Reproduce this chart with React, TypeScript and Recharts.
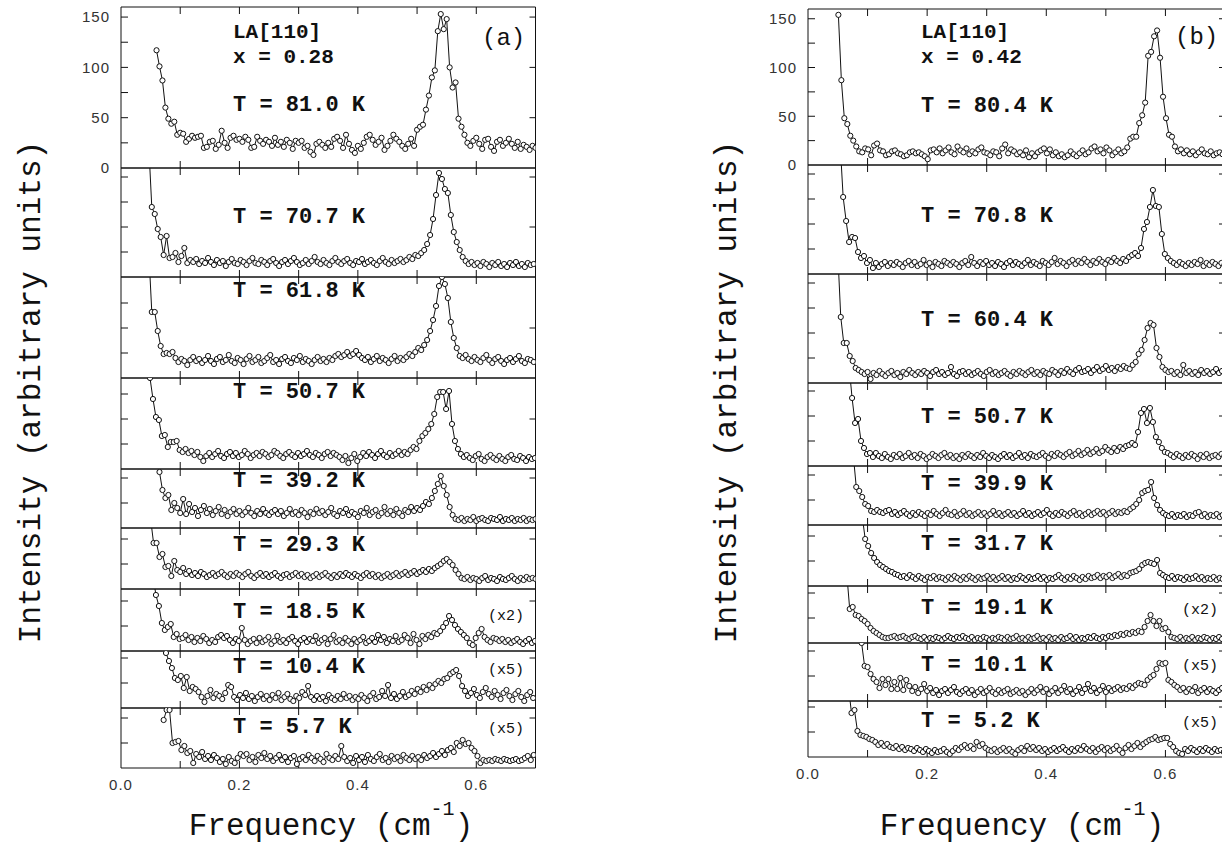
import React from 'react';
import { LineChart, Line, XAxis, YAxis } from 'recharts';

// ---------------- DATA ----------------
const STEP = 0.005; // frequency step of the scans (cm^-1)

// Panel (a): LA[110], x = 0.28
const a1Start = 0.06;
const a1 = [117,101,87,60,49,44,46,33,35,34,26,29,32,30,31,32,20,21,26,27,19,23,37,25,20,30,32,28,29,26,31,28,20,21,31,27,24,28,26,22,30,23,26,21,28,25,19,27,25,27,20,22,16,13,24,26,23,20,25,21,29,31,27,20,33,24,18,15,22,19,25,31,33,28,23,26,30,18,22,27,33,29,26,22,19,24,29,22,38,41,43,58,72,90,97,136,153,138,148,100,80,85,49,41,33,25,22,27,30,24,19,28,29,21,17,26,28,22,25,29,24,20,26,19,23,21,18,22,20];
const a2Start = 0.047;
const a2 = [130,70,63,48,40,22,41,19,20,24,15,21,29,14,17,15,18,13,16,14,19,15,12,17,14,16,11,15,18,14,13,17,15,12,16,19,14,13,17,15,12,16,18,14,11,15,17,13,16,19,15,12,14,17,13,16,20,15,13,17,14,12,16,19,15,13,16,18,14,12,16,15,18,13,15,17,14,12,16,19,15,13,17,14,16,18,15,17,20,18,22,21,24,27,33,42,58,82,104,98,88,84,62,45,35,27,20,16,13,15,12,14,11,15,13,10,14,12,15,11,13,10,14,12,15,11,13,10,14,12,13];
const a3Start = 0.047;
const a3 = [125,66,66,47,32,24,25,24,26,20,16,19,17,13,18,21,17,19,15,18,22,17,14,19,21,16,18,23,17,15,20,18,14,19,22,16,18,21,15,17,20,23,16,18,14,19,21,17,15,20,18,22,16,19,17,14,18,21,17,19,16,20,18,22,24,21,23,26,22,24,27,23,20,18,21,16,19,22,17,20,18,15,19,22,17,20,18,21,24,22,26,30,28,33,38,47,58,72,92,101,94,80,56,40,30,22,20,23,19,17,21,18,16,20,23,18,15,19,21,17,14,18,20,16,19,22,17,15,19,18,16];
const a4Start = 0.049;
const a4 = [91,70,52,49,33,34,22,27,27,28,19,17,20,16,18,14,17,12,8,13,16,12,15,18,13,11,15,17,13,16,12,14,18,15,11,14,16,13,17,15,12,14,18,16,13,11,15,17,14,12,16,13,15,18,14,12,16,14,11,15,17,13,16,14,12,9,13,6,11,15,8,12,16,13,17,14,11,15,18,14,12,16,13,15,18,14,17,15,19,22,20,28,33,36,40,45,55,72,77,77,60,78,45,28,20,15,12,14,11,9,13,15,10,8,12,14,11,9,13,10,8,12,14,10,9,13,11,8,12,10,11];
const a5Start = 0.065;
const a5 = [56,38,30,33,18,25,20,15,29,14,24,16,20,12,18,22,15,19,13,17,21,14,18,12,16,19,14,17,13,16,20,15,12,17,14,19,15,13,16,18,14,17,12,15,19,14,16,13,18,15,11,16,14,19,15,17,13,16,20,14,12,17,15,19,13,16,14,11,17,15,20,13,16,18,12,15,21,14,17,13,19,15,12,18,16,21,17,20,18,22,26,24,30,37,44,52,42,33,21,13,9,8,10,7,9,8,11,7,9,10,8,7,10,9,8,11,7,9,8,10,7,9,8,10,7,9,8,9];
const a6Start = 0.05;
const a6 = [70,46,46,32,35,22,23,13,28,19,17,21,15,18,14,16,13,17,15,12,14,16,13,15,17,14,12,15,13,16,14,12,15,17,13,11,14,16,13,15,12,14,16,13,11,14,15,12,14,16,13,15,12,14,11,13,15,12,14,16,13,11,14,12,15,13,16,14,12,15,13,11,14,16,13,15,12,14,11,13,15,12,14,16,13,15,17,14,16,18,15,17,19,17,20,18,21,23,25,28,30,27,24,19,15,11,10,12,9,11,10,8,11,13,9,11,10,8,12,10,9,11,13,10,8,11,9,12,10,11,10];
const a7Start = 0.054;
const a7 = [75,56,45,28,21,24,27,14,17,12,13,16,11,14,9,13,10,15,12,8,11,9,14,16,13,15,11,8,12,10,23,11,7,10,12,8,13,9,11,14,7,10,15,9,11,8,12,14,10,7,11,13,9,12,10,15,8,11,13,7,12,16,9,11,8,13,10,7,12,9,11,14,8,10,13,9,16,11,14,8,12,10,15,9,11,16,13,8,17,11,7,15,12,16,14,18,17,20,24,28,35,31,26,22,19,16,13,8,6,13,18,22,14,11,9,13,12,10,12,9,11,8,10,12,9,7,10,12,8,10];
const a8Start = 0.076;
const a8 = [55,47,40,30,28,32,20,31,17,21,19,16,11,6,12,18,10,14,12,9,15,23,21,11,8,13,10,15,9,12,7,11,14,9,12,8,13,10,15,8,11,14,9,7,12,10,16,13,22,11,8,12,9,11,7,13,10,8,12,9,14,10,12,8,11,9,13,10,7,12,15,9,11,17,12,23,10,14,9,12,16,11,13,17,14,19,16,21,18,23,20,24,27,25,29,30,34,36,38,32,22,17,12,15,19,13,10,16,20,14,11,17,13,9,15,18,12,8,14,17,11,7,13,16,10];
const a9Start = 0.072;
const a9 = [48,58,58,25,26,27,18,22,15,17,5,14,11,16,9,12,8,13,10,6,9,4,11,7,5,10,14,12,14,8,11,6,13,10,15,9,12,7,10,13,8,11,6,10,12,4,9,11,8,13,10,7,12,9,6,14,10,8,12,9,22,11,7,10,5,12,8,11,6,13,9,7,11,14,8,10,6,12,9,11,7,13,10,8,12,9,11,8,13,10,12,15,11,14,17,13,18,20,16,25,22,28,24,25,20,17,12,5,8,7,8,7,9,8,7,9,8,7,8,9,7,8,10,12,8,13];

// Panel (b): LA[110], x = 0.42
const b1Start = 0.051;
const b1 = [154,87,48,42,30,25,19,14,13,17,16,10,20,22,15,14,10,11,14,15,12,11,9,10,13,14,12,13,11,9,6,15,16,13,17,12,15,18,13,11,19,15,13,17,11,14,12,16,18,13,12,10,14,13,9,17,21,12,16,14,11,13,10,15,8,12,9,13,15,17,12,16,10,13,9,11,8,10,14,11,9,12,15,11,13,17,19,14,16,12,18,15,10,13,16,12,14,18,27,29,29,43,51,64,112,116,132,138,110,70,48,31,29,19,14,16,12,15,11,14,10,13,16,12,11,14,10,12,13,11];
const b2Start = 0.054;
const b2 = [130,77,53,32,37,36,22,16,18,11,14,6,11,7,10,12,8,11,9,12,10,7,11,13,9,12,8,10,14,9,11,7,12,10,8,13,11,9,12,10,7,11,13,9,17,11,8,12,10,13,9,11,8,12,10,7,11,13,9,12,10,8,11,14,9,12,10,8,13,11,9,12,16,10,13,11,8,12,14,10,13,11,15,12,9,13,11,15,12,10,14,12,16,13,11,15,13,17,19,21,18,26,45,52,67,84,68,67,40,20,16,13,11,9,12,10,8,11,9,12,10,14,8,11,9,12,10,8,11,9];
const b3Start = 0.05;
const b3 = [130,66,40,40,27,22,15,13,11,9,11,4,10,8,12,9,7,10,12,8,10,6,11,9,13,10,8,11,9,12,10,7,11,13,9,11,8,10,16,9,7,11,12,9,11,8,10,12,9,7,11,13,9,11,8,10,12,9,7,11,9,12,10,8,11,13,9,11,8,12,10,9,13,11,8,12,10,14,11,9,13,15,11,12,14,10,13,16,12,14,17,13,15,12,16,14,17,15,14,18,21,29,33,43,55,60,58,35,26,16,13,11,12,9,11,8,18,10,12,9,11,8,13,10,12,9,11,14,10,12,9];
const b4Start = 0.069;
const b4 = [100,68,43,47,25,18,12,13,9,13,10,8,12,9,7,11,9,12,8,10,13,9,11,8,12,10,7,9,12,10,8,11,13,9,11,8,10,7,11,9,12,10,8,11,9,13,10,8,11,9,7,10,12,9,11,8,10,13,9,11,8,12,10,9,11,13,10,8,12,10,13,11,9,12,14,10,12,15,11,13,16,12,14,17,13,15,19,16,14,18,15,19,17,20,21,23,21,34,53,57,43,58,44,29,24,18,14,13,11,9,12,10,8,11,9,12,10,7,11,9,12,8,10,11,9,12,10];
const b5Start = 0.076;
const b5 = [70,38,34,28,21,19,14,13,15,13,12,14,15,11,13,10,12,14,11,9,12,10,13,11,9,12,10,14,11,9,12,15,11,10,13,9,11,14,10,12,9,11,13,10,12,9,11,14,10,12,9,11,13,10,12,9,11,14,10,12,9,11,13,10,12,15,11,9,12,10,13,11,9,12,14,10,12,9,11,13,10,12,14,11,13,10,12,14,11,13,12,14,13,16,18,21,25,32,34,35,43,27,20,15,12,10,9,11,8,10,9,11,8,10,9,12,13,9,11,8,10,9,11,8,10];
const b6Start = 0.091;
const b6 = [70,47,40,33,28,24,21,19,17,15,14,12,11,9,10,8,11,9,7,10,8,6,9,8,10,7,9,8,6,9,7,10,8,6,9,7,10,8,6,9,7,8,10,7,9,6,8,10,7,9,6,8,7,10,8,6,9,7,8,10,7,9,6,8,7,9,11,8,6,9,7,10,8,6,9,7,10,8,9,11,8,10,9,11,8,10,12,9,11,10,13,14,15,17,21,23,24,23,22,26,13,11,9,8,10,7,9,8,6,9,7,8,10,7,9,6,8,7,9,6,8,7];
const b7Start = 0.065;
const b7 = [70,34,36,28,27,24,22,19,15,12,10,8,6,5,5,6,7,5,6,7,5,4,6,7,5,4,6,3,5,4,6,5,3,5,7,5,4,6,5,7,5,4,6,3,5,4,6,5,3,5,4,6,5,3,6,4,5,7,4,5,3,6,4,5,7,4,5,3,6,4,5,3,6,4,5,7,4,6,3,5,4,6,5,7,5,4,6,5,7,6,8,7,9,8,10,9,11,10,12,11,16,22,28,22,17,22,14,15,11,6,5,4,6,3,5,4,6,3,5,4,6,5,3,5,4,6,4];
const b8Start = 0.09;
const b8 = [58,35,34,27,22,19,13,22,16,22,12,19,12,23,11,21,15,10,14,8,12,17,10,13,8,11,6,10,12,8,11,14,9,7,10,12,8,11,6,9,12,8,10,13,9,7,11,8,10,12,7,9,11,8,10,6,9,12,8,11,14,9,12,7,10,13,8,11,15,9,12,7,10,14,8,12,17,10,13,8,11,15,9,13,10,12,14,11,13,12,15,13,16,18,17,16,21,24,26,32,38,37,38,21,19,16,14,11,13,9,12,10,14,8,11,13,9,12,10,8,11,13];
const b9Start = 0.068;
const b9 = [70,44,47,26,22,21,20,18,17,15,12,14,11,13,10,9,11,8,10,7,9,8,6,9,7,5,8,6,4,7,5,6,8,5,3,6,9,7,10,12,9,11,8,15,11,13,9,7,6,8,5,7,9,6,8,5,3,7,9,6,11,8,10,7,9,6,8,5,7,9,6,8,10,7,5,8,6,9,7,11,8,6,9,5,8,10,7,9,6,8,11,7,4,9,12,8,11,14,10,13,15,17,18,20,17,18,19,19,13,10,6,4,3,8,6,9,7,5,8,6,9,7,5,8,6,7,5];

// Labels
const xTickValues = [0.1, 0.2, 0.3, 0.4, 0.5, 0.6];
const xTickLabels = [0, 0.2, 0.4, 0.6];
const yTickLabels = [0, 50, 100, 150];
const aTemps = ['81.0', '70.7', '61.8', '50.7', '39.2', '29.3', '18.5', '10.4', '5.7'];
const bTemps = ['80.4', '70.8', '60.4', '50.7', '39.9', '31.7', '19.1', '10.1', '5.2'];
const factors = ['', '', '', '', '', '', '(x2)', '(x5)', '(x5)'];

const aSeries = [[a1Start, a1], [a2Start, a2], [a3Start, a3], [a4Start, a4], [a5Start, a5], [a6Start, a6], [a7Start, a7], [a8Start, a8], [a9Start, a9]] as [number, number[]][];
const bSeries = [[b1Start, b1], [b2Start, b2], [b3Start, b3], [b4Start, b4], [b5Start, b5], [b6Start, b6], [b7Start, b7], [b8Start, b8], [b9Start, b9]] as [number, number[]][];

// ---------------- LAYOUT ----------------
const PANEL_A = {
  x0: 121,
  width: 414.5,
  bounds: [[7, 168], [168, 277], [277, 378], [378, 469], [469, 528], [528, 589], [589, 651], [651, 708], [708, 768]],
  topMax: 160,
  tempX: 233,
  tempY: [111, 223, 297, 398, 487, 551, 618, 673, 733],
  factorX: 488,
  factorY: [0, 0, 0, 0, 0, 0, 620, 674, 733],
  header: ['LA[110]', 'x = 0.28'],
  headerY: [38, 63],
  tag: '(a)',
  tagX: 482,
  tagY: 45,
  yTitleX: 40,
  xTitleX: 331,
};
const PANEL_B = {
  x0: 808,
  width: 417,
  bounds: [[9, 165], [165, 274], [274, 383], [383, 466], [466, 525], [525, 586], [586, 643], [643, 701], [701, 757]],
  topMax: 160,
  tempX: 921,
  tempY: [112, 222, 326, 423, 490, 550, 614, 671, 727],
  factorX: 1182,
  factorY: [0, 0, 0, 0, 0, 0, 614, 670, 727],
  header: ['LA[110]', 'x = 0.42'],
  headerY: [38, 63],
  tag: '(b)',
  tagX: 1175,
  tagY: 44,
  yTitleX: 736,
  xTitleX: 1022,
};

const MONO = '"Liberation Mono", "DejaVu Sans Mono", monospace';
const SANS = '"Liberation Sans", Arial, sans-serif';

const mk = (start: number, vals: number[]) =>
  vals.map((y, i) => ({ x: Math.round((start + i * STEP) * 10000) / 10000, y }));

const blank = () => '';

function Strip({ data, x0, width, top, bottom, yMax, yLabels, xLabels }: any) {
  const h = bottom - top;
  const labW = yLabels ? 50 : 0;
  const labH = xLabels ? 34 : 0;
  const m = { top: 1, right: xLabels ? 20 : 1, bottom: yLabels ? 12 : 1, left: xLabels ? 20 : 1 };
  const leftTicks: number[] = [];
  for (let v = 25; v < yMax - 3; v += 25) leftTicks.push(v);
  const rightTicks = leftTicks.filter((v) => v % 50 === 0);
  return (
    <div style={{ position: 'absolute', left: x0 - m.left - labW, top: top - m.top }}>
      <LineChart width={width + m.left + m.right + labW} height={h + m.top + m.bottom + labH} data={data} margin={m}>
        <XAxis xAxisId="b" dataKey="x" type="number" domain={[0, 0.7]} ticks={xTickValues} orientation="bottom" mirror tickSize={7} tickFormatter={blank} stroke="#111" allowDataOverflow />
        <XAxis xAxisId="t" dataKey="x" type="number" domain={[0, 0.7]} ticks={xTickValues} orientation="top" mirror tickSize={7} tickFormatter={blank} stroke="#111" allowDataOverflow />
        {xLabels && (
          <XAxis xAxisId="lab" dataKey="x" type="number" domain={[0, 0.7]} ticks={xTickLabels} orientation="bottom" height={labH} tickSize={0} tickMargin={11} axisLine={false} tickLine={false} allowDataOverflow interval={0}
            tickFormatter={(v: number) => v.toFixed(1)} tick={{ fill: '#333', fontSize: 15, fontFamily: SANS, letterSpacing: 1 }} />
        )}
        <YAxis yAxisId="l" type="number" domain={[0, yMax]} ticks={leftTicks} orientation="left" mirror tickSize={7} tickFormatter={blank} stroke="#111" allowDataOverflow />
        <YAxis yAxisId="r" type="number" domain={[0, yMax]} ticks={rightTicks} orientation="right" mirror tickSize={6} tickFormatter={blank} stroke="#111" allowDataOverflow />
        {yLabels && (
          <YAxis yAxisId="lab" type="number" domain={[0, yMax]} ticks={yTickLabels} orientation="left" width={labW} tickSize={0} tickMargin={11} axisLine={false} tickLine={false} allowDataOverflow interval={0}
            tick={{ fill: '#333', fontSize: 15, fontFamily: SANS, letterSpacing: 1 }} />
        )}
        <Line xAxisId="b" yAxisId="l" type="linear" dataKey="y" stroke="#111" strokeWidth={1}
          dot={{ r: 2.6, fill: '#fff', stroke: '#111', strokeWidth: 1 }} isAnimationActive={false} />
      </LineChart>
    </div>
  );
}

function Panel({ cfg, series }: any) {
  return (
    <>
      {series.map(([start, vals]: [number, number[]], i: number) => {
        const [top, bottom] = cfg.bounds[i];
        const yMax = i === 0 ? cfg.topMax : bottom - top;
        return (
          <Strip key={i} data={mk(start, vals)} x0={cfg.x0} width={cfg.width} top={top} bottom={bottom}
            yMax={yMax} yLabels={i === 0} xLabels={i === series.length - 1} />
        );
      })}
    </>
  );
}

function Texts({ cfg, temps }: any) {
  return (
    <g>
      <text x={cfg.tempX} y={cfg.headerY[0]} fontFamily={MONO} fontWeight="bold" fontSize={21} fill="#111">{cfg.header[0]}</text>
      <text x={cfg.tempX} y={cfg.headerY[1]} fontFamily={MONO} fontWeight="bold" fontSize={21} fill="#111">{cfg.header[1]}</text>
      <text x={cfg.tagX} y={cfg.tagY} fontFamily={MONO} fontSize={24} fill="#111">{cfg.tag}</text>
      {temps.map((t: string, i: number) => (
        <text key={'t' + i} x={cfg.tempX} y={cfg.tempY[i]} fontFamily={MONO} fontWeight="bold" fontSize={22} fill="#111">{`T = ${t} K`}</text>
      ))}
      {factors.map((f: string, i: number) => f ? (
        <text key={'f' + i} x={cfg.factorX} y={cfg.factorY[i]} fontFamily={MONO} fontSize={15} fill="#111">{f}</text>
      ) : null)}
      <text transform={`translate(${cfg.yTitleX},392) rotate(-90)`} textAnchor="middle" fontFamily={MONO} fontSize={31} fill="#111">Intensity (arbitrary units)</text>
      <text x={cfg.xTitleX} y={835} textAnchor="middle" fontFamily={MONO} fontSize={31} fill="#111">
        Frequency (cm<tspan dy={-20} fontSize={20}>-1</tspan><tspan dy={20}>)</tspan>
      </text>
    </g>
  );
}

export default function App() {
  return (
    <div style={{ position: 'absolute', left: 0, top: 0, width: 1222, height: 848, overflow: 'hidden', background: '#fff' }}>
      <Panel cfg={PANEL_A} series={aSeries} />
      <Panel cfg={PANEL_B} series={bSeries} />
      <svg width={1222} height={848} style={{ position: 'absolute', left: 0, top: 0, pointerEvents: 'none' }}>
        <Texts cfg={PANEL_A} temps={aTemps} />
        <Texts cfg={PANEL_B} temps={bTemps} />
      </svg>
    </div>
  );
}
